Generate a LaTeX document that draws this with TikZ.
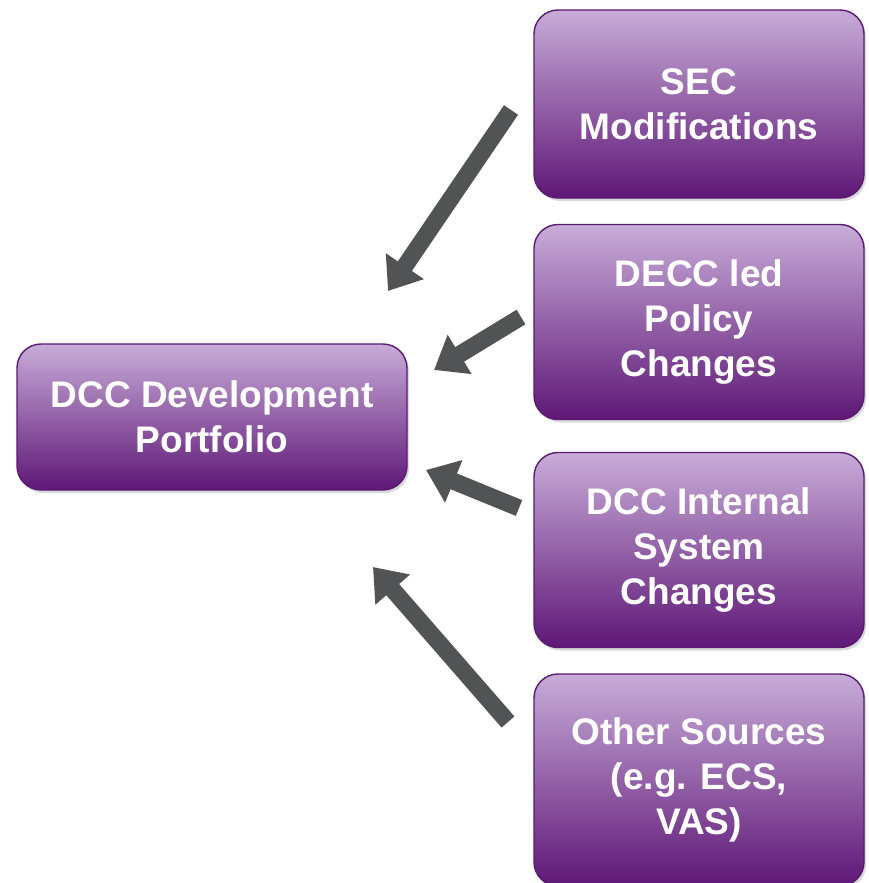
\documentclass[tikz,border=0pt]{standalone}
\usepackage{fontspec}
\setmainfont{Liberation Sans}
\usetikzlibrary{arrows.meta,shadows}

\definecolor{lilac}{HTML}{C8ACD8}
\definecolor{plum}{HTML}{5E1776}
\definecolor{plumline}{HTML}{5A1A72}
\definecolor{arrowgray}{HTML}{525355}

\begin{document}
\begin{tikzpicture}[x=1pt,y=-1pt,
    box/.style={rectangle, rounded corners=24pt, draw=plumline, line width=1.4pt,
        top color=lilac, bottom color=plum, text=white, align=center,
        font=\bfseries\fontsize{37}{45}\selectfont, inner sep=0pt,
        drop shadow={opacity=0.3, shadow xshift=2pt, shadow yshift=-3pt}},
    fat/.style={arrowgray, line width=17pt, -{Triangle[width=44pt,length=30pt]}}]
    \useasboundingbox (0,0) rectangle (869,883);

    %portfolio box on the left
    \node[box, minimum width=390pt, minimum height=146pt] (dcc) at (212,417) {DCC Development\\Portfolio};

    %the four sources
    \node[box, minimum width=330pt, minimum height=188pt] (sec) at (699,104) {SEC\\Modifications};
    \node[box, minimum width=330pt, minimum height=195pt] (decc) at (699,322) {DECC led\\Policy\\Changes};
    \node[box, minimum width=330pt, minimum height=195pt] (intern) at (699,550) {DCC Internal\\System\\Changes};
    \node[box, minimum width=330pt, minimum height=212pt] (other) at (699,780) {Other Sources\\(e.g. ECS,\\VAS)};

    %arrow ends
    \coordinate (secT) at (511,110);  \coordinate (secH) at (388,291);
    \coordinate (deccT) at (521,317); \coordinate (deccH) at (434,370);
    \coordinate (intT) at (519,508);  \coordinate (intH) at (426,470);
    \coordinate (othT) at (508,722);  \coordinate (othH) at (373,567);

    \draw[fat] (secT) -- (secH);
    \draw[fat] (deccT) -- (deccH);
    \draw[fat] (intT) -- (intH);
    \draw[fat] (othT) -- (othH);
\end{tikzpicture}
\end{document}
